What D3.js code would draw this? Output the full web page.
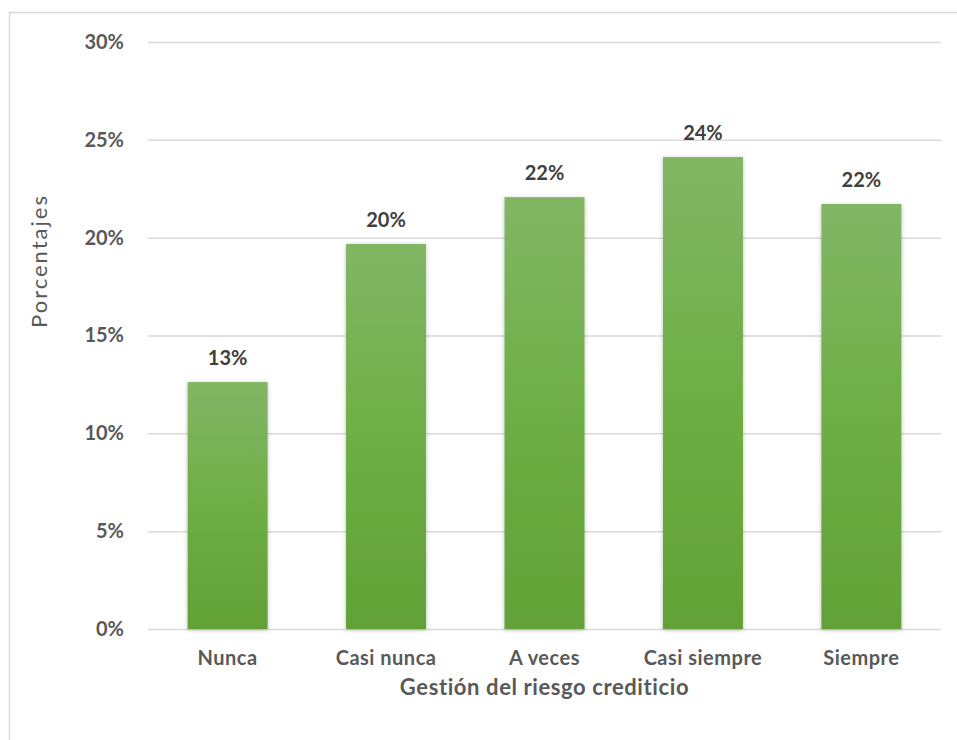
<!DOCTYPE html>
<html><head><meta charset="utf-8">
<script src="https://cdn.jsdelivr.net/npm/d3@7"></script>
<style>body{margin:0;background:#fff;}svg{display:block;}</style>
</head><body>
<svg id="c" width="957" height="740"></svg>
<script>
const categories = ["Nunca", "Casi nunca", "A veces", "Casi siempre", "Siempre"];
const values = [12.62, 19.68, 22.07, 24.12, 21.72];
const labels = ["13%", "20%", "22%", "24%", "22%"];
const yTicks = [0, 5, 10, 15, 20, 25, 30];

const svg = d3.select("#c");
const font = "Lato, 'Open Sans', sans-serif";
const m = {left:148, right:941, top:42, bottom:629};

svg.append("rect").attr("x",9.5).attr("y",12.5).attr("width",960).attr("height",740)
  .attr("fill","#fff").attr("stroke","#d9d9d9").attr("stroke-width",1.5);

const defs = svg.append("defs");
const g = defs.append("linearGradient").attr("id","bg").attr("x1",0).attr("y1",0).attr("x2",0).attr("y2",1);
g.append("stop").attr("offset","0%").attr("stop-color","#82b665");
g.append("stop").attr("offset","50%").attr("stop-color","#6eae45");
g.append("stop").attr("offset","100%").attr("stop-color","#62a136");
const f = defs.append("filter").attr("id","sh").attr("x","-20%").attr("y","-5%").attr("width","140%").attr("height","110%");
f.append("feDropShadow").attr("dx",0).attr("dy",1).attr("stdDeviation",2).attr("flood-color","#000").attr("flood-opacity",0.25);

const x = d3.scaleBand().domain(categories).range([m.left, m.right]).paddingInner(0.495).paddingOuter(0.25);
const y = d3.scaleLinear().domain([0,30]).range([m.bottom, m.top]);

const yAxis = svg.append("g").attr("transform",`translate(${m.left},0)`)
  .call(d3.axisLeft(y).tickValues(yTicks).tickFormat(d=>d+"%").tickSize(-(m.right-m.left)).tickPadding(24));
yAxis.select(".domain").remove();
yAxis.selectAll(".tick line").attr("stroke","#d9d9d9").attr("stroke-width",1.5);
yAxis.selectAll(".tick text").attr("fill","#595959").attr("font-family",font).attr("font-weight","bold").attr("font-size","20px");

svg.selectAll("rect.bar").data(values).join("rect").attr("class","bar")
  .attr("x",(d,i)=>x(categories[i])).attr("width",x.bandwidth())
  .attr("y",d=>y(d)).attr("height",d=>y(0)-y(d))
  .attr("fill","url(#bg)").attr("filter","url(#sh)");

svg.selectAll("text.lbl").data(values).join("text").attr("class","lbl")
  .attr("x",(d,i)=>x(categories[i])+x.bandwidth()/2).attr("y",d=>y(d)-17)
  .attr("text-anchor","middle").attr("fill","#404040").attr("font-family",font)
  .attr("font-weight","bold").attr("font-size","20px").text((d,i)=>labels[i]);

const xAxis = svg.append("g").attr("transform",`translate(0,${m.bottom})`)
  .call(d3.axisBottom(x).tickSize(0).tickPadding(22));
xAxis.select(".domain").remove();
xAxis.selectAll(".tick text").attr("fill","#595959").attr("font-family",font).attr("font-weight","bold").attr("font-size","20px").attr("letter-spacing","0.5px");

svg.append("text").attr("x",(m.left+m.right)/2).attr("y",695).attr("text-anchor","middle")
  .attr("fill","#595959").attr("font-family",font).attr("font-weight","bold").attr("font-size","22px").attr("letter-spacing","0.6px")
  .text("Gestión del riesgo crediticio");

svg.append("text").attr("transform","translate(47,261) rotate(-90)").attr("text-anchor","middle")
  .attr("fill","#595959").attr("font-family",font).attr("font-size","22px").attr("letter-spacing","2px").text("Porcentajes");
</script>
</body></html>
